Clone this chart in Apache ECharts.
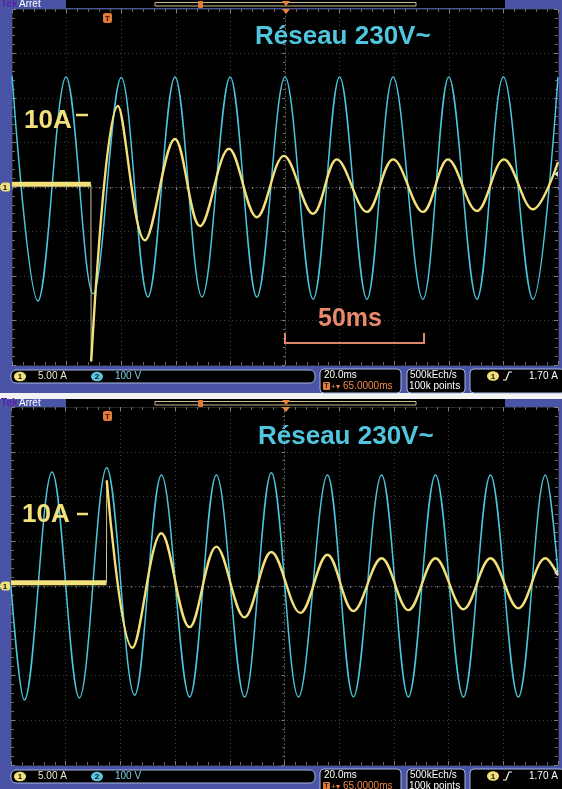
<!DOCTYPE html>
<html>
<head>
<meta charset="utf-8">
<script src="https://cdn.jsdelivr.net/npm/echarts@6/dist/echarts.min.js"></script>
<style>
  html, body { margin: 0; padding: 0; background: #fff; }
  #scope { width: 562px; height: 789px; }
</style>
</head>
<body>
<div id="scope"></div>
<script>
// scope settings: 20 ms/div (10 div), ch1 5.00 A/div, ch2 100 V/div (8 div)
const timeMin = 0, timeMax = 200, timeStep = 20
const ampMax = 20, ampStep = 5
const voltMax = 400, voltStep = 100

// --- top capture: switch-on near the voltage zero crossing ---
// ch2 (mains voltage) peaks and troughs, ms / V
const topVoltTime = [0, 9.5, 19.8, 29.7, 40.0, 49.8, 59.7, 69.6, 79.9, 89.7, 100.0, 110.3, 120.0, 130.0, 139.6, 150.5, 160.0, 170.3, 180.0, 190.8, 200.0]
const topVoltValue = [250, -256, 247, -240, 246, -247, 247, -247, 247, -247, 247, -252, 247, -252, 247, -252, 247, -252, 247, -252, 247]
// ch1 (current) before switch-on, the fast edge, then peaks/troughs, ms / A
const topPreTime = [0, 28.9]
const topPreValue = [0.3, 0.3]
const topEdgeTime = [28.9, 29.0]
const topEdgeValue = [0.3, -19.6]
const topCurTime = [29.0, 38.8, 48.7, 59.7, 68.9, 79.5, 89.7, 99.6, 110.3, 119.0, 130.0, 139.6, 150.5, 159.7, 170.3, 180.2, 190.8, 200.0]
const topCurValue = [-19.6, 9.1, -6.0, 5.4, -4.4, 4.3, -3.4, 3.5, -3.0, 3.1, -2.8, 3.1, -2.8, 3.1, -2.7, 3.1, -2.5, 2.8]

// --- bottom capture: switch-on at the voltage peak ---
const botVoltTime = [0, 4.9, 15.0, 25.0, 35.0, 45.2, 55.0, 65.3, 75.1, 85.4, 95.2, 105.1, 115.7, 125.2, 135.5, 145.3, 155.2, 165.4, 175.3, 185.5, 195.4, 200.0]
const botVoltValue = [0, -255, 255, -250, 264, -244, 248, -248, 248, -248, 253, -248, 248, -248, 248, -248, 248, -248, 248, -248, 248, 30]
const botPreTime = [0, 34.9]
const botPreValue = [0.35, 0.35]
const botEdgeTime = [34.9, 35.0]
const botEdgeValue = [0.35, 11.8]
const botCurTime = [35.0, 44.4, 55.0, 65.3, 75.1, 85.4, 95.2, 105.8, 115.7, 125.2, 135.5, 145.3, 155.2, 165.4, 175.3, 185.5, 195.4, 200.0]
const botCurValue = [11.8, -6.9, 5.9, -4.6, 4.4, -3.5, 3.8, -3.0, 3.5, -2.8, 3.1, -2.7, 3.1, -2.6, 3.1, -2.5, 3.1, 1.2]

const CYAN = '#4cc6de'
const YELLOW = '#f2e07a'
const FRAME = '#4a54a6'
const UI_FONT = '"Liberation Sans", Arial, sans-serif'

const panels = [
  { left: 12, top: 9, width: 546, height: 356, head: 0, status: 366 },
  { left: 11, top: 407, width: 547, height: 358, head: 399, status: 766 }
]

function pairs (t, v) {
  return t.map((x, i) => [x, v[i]])
}

const tick = { inside: true, length: 4, lineStyle: { color: '#7e7e7e' } }
const minor = { show: true, splitNumber: 5, length: 3, lineStyle: { color: '#6a6a6a' } }
const dotted = { color: '#3e3e3e', type: [1, 3], width: 1 }

function xAxes (gi) {
  const base = { gridIndex: gi, type: 'value', min: timeMin, max: timeMax, interval: timeStep, axisLabel: { show: false } }
  return [
    { ...base, position: 'bottom', axisLine: { onZero: false, lineStyle: { color: '#262626' } }, axisTick: tick, minorTick: minor, splitLine: { show: true, lineStyle: dotted } },
    { ...base, position: 'top', axisLine: { onZero: false, lineStyle: { color: '#262626' } }, axisTick: tick, minorTick: minor, splitLine: { show: false } },
    // centre crosshair (horizontal)
    { gridIndex: gi, type: 'value', min: -100, max: 100, interval: timeStep, position: 'bottom', axisLabel: { show: false },
      axisLine: { onZero: true, onZeroAxisIndex: gi * 3, lineStyle: { color: '#505050', type: [1, 3] } },
      axisTick: { length: 3, lineStyle: { color: '#7e7e7e' } }, minorTick: { show: true, splitNumber: 5, length: 2, lineStyle: { color: '#6a6a6a' } }, splitLine: { show: false } }
  ]
}

function yAxes (gi) {
  return [
    { gridIndex: gi, type: 'value', min: -ampMax, max: ampMax, interval: ampStep, position: 'left', axisLabel: { show: false },
      axisLine: { onZero: false, lineStyle: { color: '#262626' } }, axisTick: tick, minorTick: minor, splitLine: { show: true, lineStyle: dotted } },
    { gridIndex: gi, type: 'value', min: -voltMax, max: voltMax, interval: voltStep, position: 'right', axisLabel: { show: false },
      axisLine: { onZero: false, lineStyle: { color: '#262626' } }, axisTick: tick, minorTick: minor, splitLine: { show: false } },
    // centre crosshair (vertical)
    { gridIndex: gi, type: 'value', min: -ampMax, max: ampMax, interval: ampStep, position: 'left', axisLabel: { show: false },
      axisLine: { onZero: true, onZeroAxisIndex: gi * 3 + 2, lineStyle: { color: '#505050', type: [1, 3] } },
      axisTick: { length: 3, lineStyle: { color: '#7e7e7e' } }, minorTick: { show: true, splitNumber: 5, length: 2, lineStyle: { color: '#6a6a6a' } }, splitLine: { show: false } }
  ]
}

function traces (gi, vT, vV, pT, pV, eT, eV, cT, cV) {
  const xi = gi * 3
  const ya = gi * 3
  const yv = gi * 3 + 1
  const common = { type: 'line', xAxisIndex: xi, symbol: 'none', silent: true }
  return [
    { ...common, name: 'ch2', yAxisIndex: yv, data: pairs(vT, vV), smooth: 0.36, lineStyle: { color: CYAN, width: 1.5 }, z: 3 },
    { ...common, name: 'ch1', yAxisIndex: ya, data: pairs(pT, pV), lineStyle: { color: YELLOW, width: 5 }, z: 4 },
    { ...common, name: 'ch1', yAxisIndex: ya, data: pairs(eT, eV), lineStyle: { color: '#cfc68e', width: 1 }, z: 4 },
    { ...common, name: 'ch1', yAxisIndex: ya, data: pairs(cT, cV), smooth: 0.36, lineStyle: { color: YELLOW, width: 2.4 }, z: 5 }
  ]
}

// small helpers for the scope furniture
function txt (x, y, text, fill, font, align) {
  return { type: 'text', z: 100, style: { x, y, text, fill, font, align: align || 'left', verticalAlign: 'middle', textAlign: align || 'left', textVerticalAlign: 'middle' } }
}
function box (x, y, w, h, fill, stroke, r) {
  return { type: 'rect', z: 90, shape: { x, y, width: w, height: h, r: r || 0 }, style: { fill: fill || 'none', stroke: stroke || null, lineWidth: 1 } }
}
function poly (points, fill) {
  return { type: 'polygon', z: 95, shape: { points }, style: { fill } }
}
function wire (points, stroke, width) {
  return { type: 'polyline', z: 95, shape: { points }, style: { stroke, lineWidth: width || 1, fill: null } }
}
function badge (cx, cy, label, fill) {
  return [
    { type: 'ellipse', z: 95, shape: { cx, cy, rx: 6, ry: 4.8 }, style: { fill } },
    txt(cx, cy + 0.5, label, '#111', 'bold 8px ' + UI_FONT, 'center')
  ]
}

function panelDecor (p) {
  const h = p.head
  const s = p.status
  const g = p.top + p.height / 2
  const out = []
  // header
  out.push(box(66, h, 439, 8, '#000'))
  out.push(txt(1, h + 4, 'Tek', '#5a22a8', 'bold 10px ' + UI_FONT))
  out.push(txt(19, h + 4, 'Arrêt', '#ffffff', '10px ' + UI_FONT))
  out.push(box(155, h + 2.5, 261, 3.5, 'none', '#cdbb8c'))
  out.push(box(198, h + 1, 5, 7, '#e07b39', null, 1))
  out.push(poly([[282, h + 1], [290, h + 1], [286, h + 6]], '#e8843c'))
  // markers on the graticule
  out.push(poly([[282, p.top], [290, p.top], [286, p.top + 5]], '#e8843c'))
  out.push(box(103, p.top + 4, 9, 10, '#e07b39', null, 2))
  out.push(txt(107.5, p.top + 9.5, 'T', '#3a1600', 'bold 8px ' + UI_FONT, 'center'))
  out.push({ type: 'rect', z: 95, shape: { x: 0, y: g - 4.5, width: 10, height: 9, r: [4.5, 2, 2, 4.5] }, style: { fill: YELLOW } })
  out.push(txt(5, g + 0.5, '1', '#111', 'bold 8px ' + UI_FONT, 'center'))
  out.push(poly([[p.left + p.width - 4, g - 13], [p.left + p.width, g - 16], [p.left + p.width, g - 10]], '#d8d8d8'))
  // status bar
  out.push(box(11, s + 4, 304, 13, '#000', '#a9b5e2', 5))
  out.push(...badge(20, s + 10.5, '1', YELLOW))
  out.push(txt(38, s + 10.5, '5.00 A', '#ede7c4', '10px ' + UI_FONT))
  out.push(...badge(97, s + 10.5, '2', '#5cc4dc'))
  out.push(txt(115, s + 10.5, '100 V', '#79cfe2', '10px ' + UI_FONT))
  out.push(box(320, s + 3, 81, 24, '#000', '#a9b5e2', 4))
  out.push(txt(324, s + 9.5, '20.0ms', '#ffffff', '10px ' + UI_FONT))
  out.push(box(323, s + 16, 7, 8, '#e07b39', null, 1))
  out.push(txt(326.5, s + 20.5, 'T', '#3a1600', 'bold 7px ' + UI_FONT, 'center'))
  out.push(txt(331, s + 20.5, '+▾', '#f0894a', '8px ' + UI_FONT))
  out.push(txt(343, s + 20.5, '65.0000ms', '#f0894a', '10px ' + UI_FONT))
  out.push(box(407, s + 3, 58, 24, '#000', '#a9b5e2', 4))
  out.push(txt(410, s + 9.5, '500kEch/s', '#ffffff', '10px ' + UI_FONT))
  out.push(txt(409, s + 20.5, '100k points', '#ffffff', '10px ' + UI_FONT))
  out.push(box(470, s + 3, 95, 24, '#000', '#a9b5e2', 4))
  out.push(...badge(493, s + 10, '1', YELLOW))
  out.push(wire([[503, s + 14], [506, s + 14], [509, s + 6], [512, s + 6]], '#ffffff', 1.2))
  out.push(txt(529, s + 10, '1.70 A', '#ffffff', '10px ' + UI_FONT))
  return out
}

const bigFont = 'bold 26px "Liberation Sans", Arial, sans-serif'
const annotations = [
  // top
  txt(255, 37, 'Réseau 230V~', '#4fc6dd', bigFont),
  txt(24, 121, '10A', YELLOW, bigFont),
  wire([[76, 115], [88, 115]], YELLOW, 2.5),
  txt(318, 319, '50ms', '#e8896c', 'bold 25px "Liberation Sans", Arial, sans-serif'),
  wire([[285, 333], [285, 343], [424, 343], [424, 333]], '#e0866a', 2),
  // bottom
  txt(258, 437, 'Réseau 230V~', '#4fc6dd', bigFont),
  txt(22, 515, '10A', YELLOW, bigFont),
  wire([[77, 514], [88, 514]], YELLOW, 2.5)
]

const option = {
  animation: false,
  backgroundColor: FRAME,
  grid: panels.map(p => ({ left: p.left, top: p.top, width: p.width, height: p.height, show: true, backgroundColor: '#000', borderWidth: 0 })),
  xAxis: [...xAxes(0), ...xAxes(1)],
  yAxis: [...yAxes(0), ...yAxes(1)],
  series: [
    ...traces(0, topVoltTime, topVoltValue, topPreTime, topPreValue, topEdgeTime, topEdgeValue, topCurTime, topCurValue),
    ...traces(1, botVoltTime, botVoltValue, botPreTime, botPreValue, botEdgeTime, botEdgeValue, botCurTime, botCurValue)
  ],
  graphic: [
    box(0, 393, 562, 6, '#f3f3f3'),
    ...panelDecor(panels[0]),
    ...panelDecor(panels[1]),
    ...annotations
  ]
}

const chart = echarts.init(document.getElementById('scope'))
chart.setOption(option)
</script>
</body>
</html>
